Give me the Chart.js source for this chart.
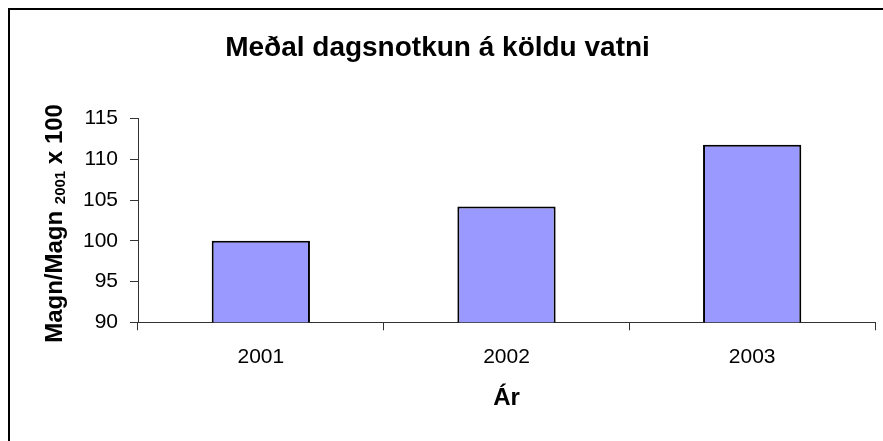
<!DOCTYPE html>
<html>
<head>
<meta charset="utf-8">
<script src="https://cdn.jsdelivr.net/npm/chart.js@4/dist/chart.umd.min.js"></script>
<style>
  html, body { margin: 0; padding: 0; background: #fff; overflow: hidden; }
  #wrap { position: relative; width: 883px; height: 441px; }
  #frame {
    position: absolute; left: 8px; top: 8px; width: 900px; height: 500px;
    border: 2px solid #000; pointer-events: none;
  }
</style>
</head>
<body>
<div id="wrap">
  <canvas id="chart" width="883" height="441"></canvas>
  <div id="frame"></div>
</div>
<script>
const years = ['2001', '2002', '2003'];
const values = [100, 104.2, 111.8];
const yTicks = [90, 95, 100, 105, 110, 115];

const FONT = '"Liberation Sans", Arial, sans-serif';

// y axis title with a subscript, drawn next to the axis
const yTitle = {
  id: 'yTitle',
  afterDraw(chart) {
    const ctx = chart.ctx;
    const area = chart.chartArea;
    const parts = [
      { text: 'Magn/Magn ', size: 24, shift: 0 },
      { text: '2001', size: 15, shift: 3 },
      { text: ' x 100', size: 24, shift: 0 },
    ];
    ctx.save();
    ctx.fillStyle = '#000';
    ctx.textBaseline = 'alphabetic';
    let total = 0;
    parts.forEach((p) => {
      ctx.font = 'bold ' + p.size + 'px ' + FONT;
      p.w = ctx.measureText(p.text).width;
      total += p.w;
    });
    ctx.translate(62, (area.top + area.bottom) / 2 + 3);
    ctx.rotate(-Math.PI / 2);
    let x = -total / 2;
    parts.forEach((p) => {
      ctx.font = 'bold ' + p.size + 'px ' + FONT;
      ctx.fillText(p.text, x, p.shift);
      x += p.w;
    });
    ctx.restore();
  },
};

new Chart(document.getElementById('chart'), {
  type: 'bar',
  data: {
    labels: years,
    datasets: [
      {
        data: values,
        backgroundColor: '#9999FF',
        borderColor: '#000',
        borderWidth: 2,
        borderSkipped: false,
        barPercentage: 0.4,
        categoryPercentage: 1,
      },
    ],
  },
  options: {
    responsive: false,
    devicePixelRatio: 1,
    animation: false,
    layout: { padding: { left: 0, right: 8, top: 0, bottom: 0 } },
    plugins: {
      legend: { display: false },
      tooltip: { enabled: false },
      title: {
        display: true,
        text: 'Meðal dagsnotkun á köldu vatni',
        color: '#000',
        font: { family: FONT, size: 28, weight: 'bold' },
        padding: { top: 31, bottom: 54 },
      },
    },
    scales: {
      x: {
        afterFit(scale) {
          scale.height = 118.7;
        },
        grid: {
          display: true,
          drawOnChartArea: false,
          drawTicks: true,
          tickLength: 8,
          color: '#333',
        },
        border: { display: true, color: '#333', width: 1 },
        ticks: {
          color: '#000',
          padding: 14,
          font: { family: FONT, size: 21 },
        },
        title: {
          display: true,
          text: 'Ár',
          color: '#000',
          font: { family: FONT, size: 24, weight: 'bold' },
          padding: { top: 0, bottom: 28 },
        },
      },
      y: {
        min: 90,
        max: 115,
        afterFit(scale) {
          scale.width = 138;
        },
        afterBuildTicks(scale) {
          scale.ticks = yTicks.map((v) => ({ value: v }));
        },
        grid: {
          display: true,
          drawOnChartArea: false,
          drawTicks: true,
          tickLength: 8,
          color: '#333',
        },
        border: { display: true, color: '#333', width: 1 },
        ticks: {
          color: '#000',
          padding: 12,
          font: { family: FONT, size: 21 },
        },
      },
    },
  },
  plugins: [yTitle],
});
</script>
</body>
</html>
